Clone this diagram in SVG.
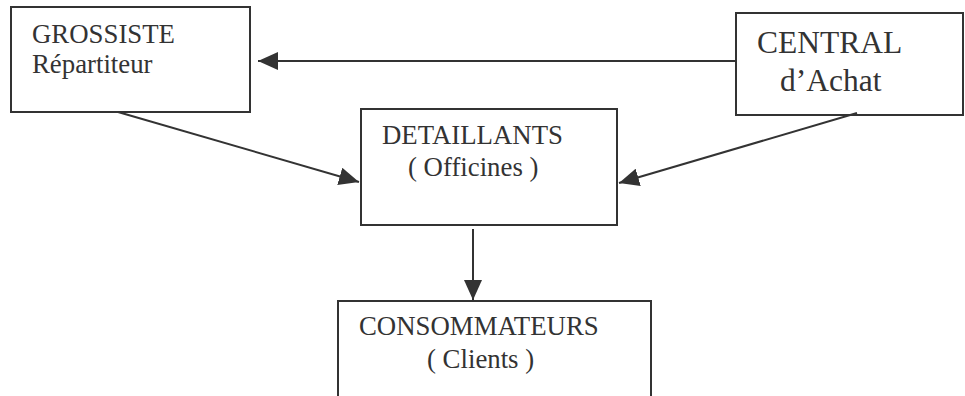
<svg xmlns="http://www.w3.org/2000/svg" width="965" height="396" viewBox="0 0 965 396">
<style>
.box{fill:#fff;stroke:#333;stroke-width:2}
.t{font-family:"Liberation Serif","Times New Roman",serif;font-size:26.8px;fill:#333}
.tb{font-family:"Liberation Serif","Times New Roman",serif;font-size:31.5px;fill:#333}
.c{stroke:#333;stroke-width:2;fill:none}
</style>
<defs>
<marker id="ah" viewBox="0 0 20 18" refX="20" refY="9" markerWidth="20" markerHeight="18" markerUnits="userSpaceOnUse" orient="auto">
<path d="M0,0 L20,9 L0,18 Z" fill="#333"/>
</marker>
</defs>
<rect width="965" height="396" fill="#fff"/>
<g id="grossiste">
<rect class="box" x="11" y="7" width="239" height="105"/>
<text class="t" x="32" y="43">GROSSISTE</text>
<text class="t" x="32" y="73">Répartiteur</text>
</g>
<g id="central">
<rect class="box" x="736" y="13" width="227" height="102"/>
<text class="tb" x="757" y="53">CENTRAL</text>
<text class="tb" x="780" y="91">d’Achat</text>
</g>
<g id="detaillants">
<rect class="box" x="361" y="109" width="256" height="116"/>
<text class="t" x="382" y="144">DETAILLANTS</text>
<text class="t" x="408" y="176">( Officines )</text>
</g>
<g id="consommateurs">
<rect class="box" x="338" y="301" width="313" height="100"/>
<text class="t" x="359" y="335">CONSOMMATEURS</text>
<text class="t" x="427" y="368">( Clients )</text>
</g>
<g id="connectors">
<line class="c" x1="736" y1="61" x2="258" y2="61" marker-end="url(#ah)"/>
<line class="c" x1="118" y1="112" x2="359" y2="182" marker-end="url(#ah)"/>
<line class="c" x1="857" y1="113" x2="619" y2="183" marker-end="url(#ah)"/>
<line class="c" x1="473" y1="229" x2="473" y2="300" marker-end="url(#ah)"/>
</g>
</svg>
